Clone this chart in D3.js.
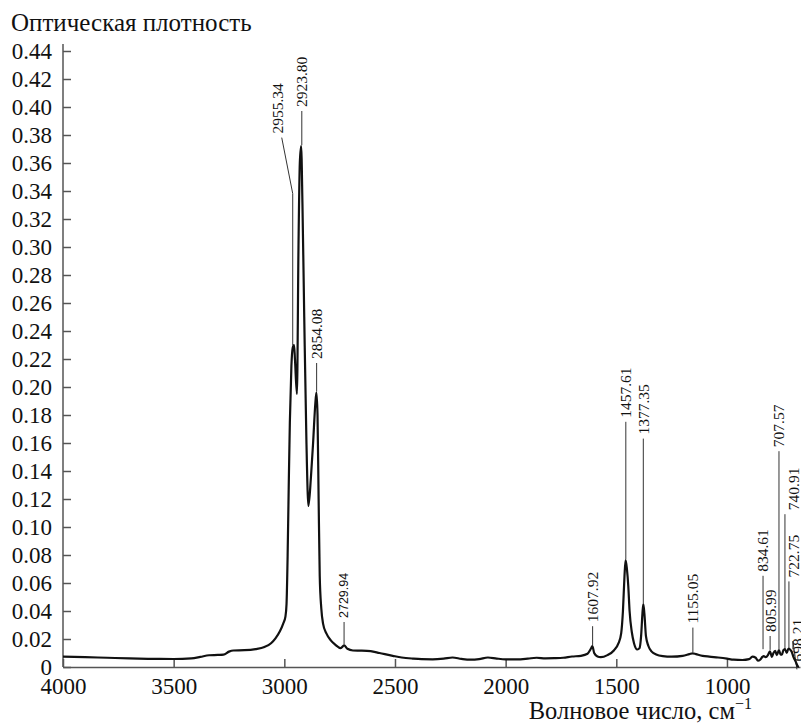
<!DOCTYPE html>
<html>
<head>
<meta charset="utf-8">
<script src="https://cdn.jsdelivr.net/npm/d3@7"></script>
<style>
  body { margin: 0; background: #fff; }
</style>
</head>
<body>
<div id="chart"></div>
<script>
// spectrum (wavenumber cm-1, absorbance)
var wavenumber = [4000, 3900, 3800, 3700, 3600, 3500, 3420, 3380, 3340, 3300, 3275, 3250, 3230, 3180, 3130, 3090,
	3060, 3040, 3020, 3005, 2995, 2990, 2985, 2980, 2975, 2968, 2962, 2956, 2952, 2943, 2936, 2930, 2924, 2918,
	2910, 2900, 2891, 2880, 2870, 2860, 2855, 2850, 2845, 2840, 2833, 2825, 2810, 2790, 2770, 2745, 2730, 2715,
	2690, 2650, 2610, 2570, 2510, 2470, 2420, 2380, 2330, 2280, 2240, 2200, 2160, 2120, 2080, 2040, 2000, 1950,
	1900, 1860, 1820, 1780, 1740, 1700, 1660, 1630, 1615, 1608, 1600, 1585, 1570, 1540, 1510, 1490, 1478, 1470,
	1463, 1458, 1452, 1446, 1440, 1430, 1420, 1405, 1395, 1388, 1382, 1378, 1373, 1366, 1355, 1340, 1320, 1290,
	1250, 1200, 1170, 1155, 1140, 1110, 1080, 1040, 1000, 970, 930, 900, 885, 870, 860, 850, 840, 834, 825, 815,
	806, 797, 790, 782, 775, 765, 758, 752, 745, 738, 730, 722, 715, 708, 700, 690, 680, 675];
var absorbance = [0.0074, 0.0070, 0.0066, 0.0061, 0.0058, 0.0057, 0.0062, 0.0072, 0.0084, 0.0086, 0.0088, 0.0110,
	0.0118, 0.0120, 0.0128, 0.0143, 0.0170, 0.0205, 0.0255, 0.0310, 0.0360, 0.0450, 0.0800, 0.1300, 0.1750, 0.2150,
	0.2280, 0.2300, 0.2200, 0.1950, 0.3000, 0.3600, 0.3720, 0.3300, 0.2500, 0.1600, 0.1150, 0.1350, 0.1600, 0.1880,
	0.1960, 0.1800, 0.1200, 0.0650, 0.0420, 0.0310, 0.0240, 0.0190, 0.0160, 0.0135, 0.0155, 0.0130, 0.0118, 0.0117,
	0.0113, 0.0100, 0.0080, 0.0068, 0.0060, 0.0056, 0.0055, 0.0060, 0.0068, 0.0058, 0.0052, 0.0056, 0.0068, 0.0060,
	0.0055, 0.0055, 0.0060, 0.0066, 0.0062, 0.0063, 0.0066, 0.0075, 0.0080, 0.0095, 0.0130, 0.0150, 0.0100, 0.0075,
	0.0070, 0.0085, 0.0120, 0.0170, 0.0240, 0.0400, 0.0650, 0.0764, 0.0700, 0.0580, 0.0400, 0.0250, 0.0170, 0.0125,
	0.0135, 0.0220, 0.0380, 0.0450, 0.0380, 0.0220, 0.0150, 0.0110, 0.0090, 0.0078, 0.0074, 0.0080, 0.0092, 0.0098,
	0.0092, 0.0080, 0.0074, 0.0068, 0.0060, 0.0052, 0.0050, 0.0056, 0.0074, 0.0066, 0.0045, 0.0052, 0.0072, 0.0078,
	0.0070, 0.0085, 0.0112, 0.0072, 0.0100, 0.0115, 0.0085, 0.0120, 0.0090, 0.0088, 0.0120, 0.0128, 0.0100, 0.0132,
	0.0125, 0.0110, 0.0074, 0.0040, 0.0005, 0];

// peak annotations: label, where the leader is drawn (cm-1), top of the peak and start of the label (absorbance)
var peakLabels = ["2955.34", "2923.80", "2854.08", "2729.94", "1607.92", "1457.61", "1377.35", "1155.05",
	"834.61", "805.99", "707.57", "740.91", "722.75", "698.21"];
var peakAt = [2962, 2921, 2854, 2730, 1607, 1457, 1378, 1154, 837, 805, 765, 738, 720, 702];
var peakTop = [0.229, 0.372, 0.196, 0.0155, 0.015, 0.0764, 0.045, 0.0098, 0.012, 0.0115, 0.012, 0.012, 0.013, 0.012];
var labelAt = [0.381, 0.400, 0.220, 0.035, 0.032, 0.178, 0.166, 0.031, 0.068, 0.025, 0.157, 0.112, 0.064, 0.004];
var labelShift = [-1, 0, 0, 0, 0, 0, 0, 0, 0, 0, 0, 2, 1, 1];

var xTicks = [4000, 3500, 3000, 2500, 2000, 1500, 1000];
var yTicks = d3.range(0, 23).map(function(i) { return i * 0.02; });

var width = 801, height = 725;
var m = {left: 63, right: 1, top: 51, bottom: 58};
var serif = "Liberation Serif";

var svg = d3.select("#chart").append("svg")
	.attr("width", width)
	.attr("height", height)
	.attr("font-family", serif);

var x = d3.scaleLinear().domain([4000, 670]).range([m.left, width - m.right]);
var y = d3.scaleLinear().domain([0, 0.44]).range([height - m.bottom, m.top]);

// axes, ticks point inside
var yAxis = svg.append("g")
	.attr("transform", "translate(" + m.left + ",0)")
	.call(d3.axisLeft(y).tickValues(yTicks).tickSize(-8).tickSizeOuter(0).tickPadding(11)
		.tickFormat(function(d) { return d === 0 ? "0" : d3.format(".2f")(d); }));

var xAxis = svg.append("g")
	.attr("transform", "translate(0," + y(0) + ")")
	.call(d3.axisBottom(x).tickValues(xTicks).tickSize(-8).tickSizeOuter(0).tickPadding(11)
		.tickFormat(d3.format("d")));

svg.selectAll("g").attr("font-family", serif).attr("font-size", 23);
svg.selectAll(".domain, .tick line").attr("stroke", "#555").attr("stroke-width", 1.5);
svg.selectAll(".tick text").attr("fill", "#111");
yAxis.select(".domain").attr("d", "M0," + (y(0.44) - 7) + "V" + y(0));

// titles
svg.append("text")
	.attr("x", 11)
	.attr("y", 31)
	.attr("font-family", serif)
	.attr("font-size", 25)
	.attr("fill", "#111")
	.text("Оптическая плотность");

var xt = svg.append("text")
	.attr("x", 752)
	.attr("y", 719)
	.attr("text-anchor", "end")
	.attr("font-family", serif)
	.attr("font-size", 24.5)
	.attr("fill", "#111");
xt.append("tspan").text("Волновое число, см");
xt.append("tspan").attr("dy", -10).attr("font-size", 16).text("\u22121");

// leader lines
var peaks = peakLabels.map(function(d, i) {
	return {name: d, w: peakAt[i], top: peakTop[i], lab: labelAt[i], shift: labelShift[i]};
});

svg.append("g").selectAll("path")
	.data(peaks)
	.enter().append("path")
	.attr("fill", "none")
	.attr("stroke", "#333")
	.attr("stroke-width", 1)
	.attr("d", function(d) {
		var px = x(d.w), y0 = y(d.top) - 1, y1 = y(d.lab) + 4;
		if (d.shift < 0) return "M" + px + "," + y0 + "V" + (y1 + 56) + "L" + (px - 11) + "," + y1;
		if (d.name === "698.21") return "M" + px + "," + y0 + "V" + (y0 - 8) + "L" + (px + 4) + "," + (y1 + 4);
		return "M" + px + "," + y0 + "V" + y1;
	});

// spectrum
var line = d3.line()
	.x(function(d, i) { return x(wavenumber[i]); })
	.y(function(d) { return y(d); })
	.curve(d3.curveMonotoneX);

svg.append("path")
	.datum(absorbance)
	.attr("fill", "none")
	.attr("stroke", "#111")
	.attr("stroke-width", 2.2)
	.attr("stroke-linejoin", "round")
	.attr("d", line);

// peak labels, rotated
svg.append("g").selectAll("text")
	.data(peaks)
	.enter().append("text")
	.attr("transform", function(d) {
		var px = x(d.w);
		if (d.shift < 0) px -= 15;
		if (d.shift > 0) px += 4.5 * d.shift;
		return "translate(" + px + "," + y(d.lab) + ") rotate(-90)";
	})
	.attr("dy", "0.35em")
	.attr("fill", "#111")
	.attr("font-size", function(d) { return d.name === "2729.94" ? 12.5 : 15.5; })
	.attr("font-family", function(d) { return d.name === "2729.94" ? "Liberation Sans" : serif; })
	.text(function(d) { return d.name; });
</script>
</body>
</html>
